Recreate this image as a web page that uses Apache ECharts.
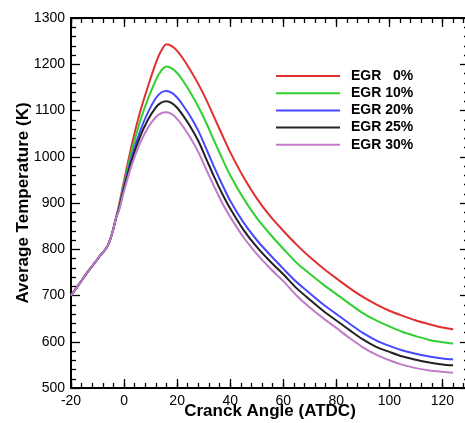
<!DOCTYPE html>
<html>
<head>
<meta charset="utf-8">
<title>Average Temperature vs Cranck Angle</title>
<script src="https://cdn.jsdelivr.net/npm/echarts@6.0.0/dist/echarts.min.js"></script>
<style>
  html, body { margin: 0; padding: 0; background: #fff; }
  #chart { width: 465px; height: 423px; }
</style>
</head>
<body>
<div id="chart"></div>
<script>
// crank angle (deg ATDC), shared by all curves
var angles = [-20, -17, -14, -11, -9, -7, -6, -5, -4, -3, -2, 0, 3, 6, 9, 12, 14, 16, 18, 20,
  22, 25, 28, 31, 34, 37, 40, 45, 50, 55, 60, 65, 70, 75, 80, 85, 90, 95, 100, 105, 110, 115, 120, 124];

var egrNames = ["EGR   0%", "EGR 10%", "EGR 20%", "EGR 25%", "EGR 30%"];

// average temperature (K)
var egr0 = [700, 724, 749, 771, 786, 800, 810, 825, 845, 868, 893, 948, 1028, 1096, 1152, 1203, 1229, 1243, 1239, 1229,
  1214, 1187, 1157, 1123, 1085, 1047, 1010, 956, 910, 872, 840, 810, 783, 759, 737, 716, 697, 681, 667, 656, 646, 638, 631, 627];
var egr10 = [700, 724, 749, 771, 786, 800, 810, 825, 845, 868, 890, 942, 1015, 1076, 1125, 1166, 1186, 1195, 1191, 1181,
  1166, 1139, 1108, 1073, 1034, 996, 960, 910, 868, 833, 801, 771, 747, 724, 703, 682, 662, 646, 633, 621, 612, 604, 599, 596];
var egr20 = [700, 724, 749, 771, 786, 800, 810, 825, 845, 868, 887, 936, 1002, 1055, 1096, 1127, 1139, 1142, 1138, 1128,
  1113, 1087, 1056, 1017, 977, 940, 905, 858, 820, 788, 758, 729, 705, 681, 660, 639, 619, 603, 591, 581, 574, 568, 564, 562];
var egr25 = [700, 724, 749, 771, 786, 800, 810, 825, 845, 868, 885, 932, 994, 1043, 1080, 1107, 1117, 1120, 1116, 1106,
  1091, 1065, 1034, 995, 956, 920, 888, 842, 805, 774, 746, 716, 691, 667, 646, 625, 605, 589, 578, 568, 561, 555, 551, 549];
var egr30 = [700, 724, 749, 771, 786, 800, 810, 825, 845, 868, 882, 926, 984, 1029, 1063, 1086, 1094, 1096, 1092, 1082,
  1067, 1041, 1010, 972, 935, 900, 870, 826, 790, 759, 731, 700, 674, 651, 630, 608, 588, 572, 560, 550, 543, 538, 535, 533];

var xTicks = { min: -20, max: 130, major: 20, minor: 4 };
var yTicks = { min: 500, max: 1300, major: 100 };

var colors = ["#e03030", "#30d030", "#4848ff", "#222222", "#c07cc8"];

function pairs(xs, ys) {
  var out = [];
  for (var i = 0; i < xs.length; i++) out.push([xs[i], ys[i]]);
  return out;
}

function init_chart(container) {
  var myChart = echarts.init(document.getElementById(container), null, { renderer: "canvas" });
  var font = "'Liberation Sans', Arial, sans-serif";
  var axisLine = { show: true, onZero: false, lineStyle: { color: "#000", width: 2 } };
  var plain = function (v) { return String(v); };

  // x axis: one axis for major ticks + labels, one for minor ticks, on bottom and top
  function xAxisDef(position, minor) {
    return {
      type: "value",
      position: position,
      min: xTicks.min,
      max: xTicks.max,
      interval: minor ? xTicks.minor : xTicks.major,
      axisLine: minor ? { show: false } : axisLine,
      axisTick: { show: true, inside: true, length: minor ? 5 : 9, lineStyle: { color: "#000", width: 1.3 } },
      axisLabel: {
        show: position === "bottom" && !minor,
        showMaxLabel: false,
        formatter: plain,
        color: "#000",
        fontSize: 14,
        fontFamily: font,
        margin: 6,
      },
      splitLine: { show: false },
      name: position === "bottom" && !minor ? "Cranck Angle (ATDC)" : "",
      nameLocation: "middle",
      nameGap: 15,
      nameMoveOverlap: false,
      nameTextStyle: { color: "#000", fontSize: 17, fontWeight: "bold", fontFamily: font },
    };
  }

  function yAxisDef(position) {
    return {
      type: "value",
      position: position,
      min: yTicks.min,
      max: yTicks.max,
      interval: yTicks.major,
      axisLine: axisLine,
      axisTick: { show: true, inside: true, length: 9, lineStyle: { color: "#000", width: 1.3 } },
      minorTick: { show: true, splitNumber: 5, length: 5, lineStyle: { color: "#000", width: 1.3 } },
      axisLabel: {
        show: position === "left",
        formatter: plain,
        color: "#000",
        fontSize: 14,
        fontFamily: font,
        margin: 6,
      },
      splitLine: { show: false },
      minorSplitLine: { show: false },
      name: position === "left" ? "Average Temperature (K)" : "",
      nameLocation: "middle",
      nameGap: 39,
      nameMoveOverlap: false,
      nameTextStyle: { color: "#000", fontSize: 17, fontWeight: "bold", fontFamily: font },
    };
  }

  var allTemps = [egr0, egr10, egr20, egr25, egr30];
  var series = [];
  for (var i = 0; i < allTemps.length; i++) {
    series.push({
      name: egrNames[i],
      type: "line",
      xAxisIndex: 0,
      yAxisIndex: 0,
      data: pairs(angles, allTemps[i]),
      smooth: 0.3,
      symbol: "none",
      lineStyle: { color: colors[i], width: 2 },
      itemStyle: { color: colors[i] },
      animation: false,
    });
  }

  var option = {
    backgroundColor: "#fff",
    animation: false,
    grid: {
      left: 71,
      top: 18,
      right: -4,
      bottom: 35,
      containLabel: false,
      outerBoundsMode: "none",
    },
    legend: {
      orient: "vertical",
      left: 276,
      top: 69,
      padding: 0,
      icon: "rect",
      itemWidth: 64,
      itemHeight: 2,
      itemGap: 3.2,
      data: egrNames,
      textStyle: { color: "#000", fontSize: 14, fontWeight: "bold", fontFamily: font, padding: [0, 0, 0, 6] },
    },
    xAxis: [xAxisDef("bottom", false), xAxisDef("bottom", true), xAxisDef("top", false), xAxisDef("top", true)],
    yAxis: [yAxisDef("left"), yAxisDef("right")],
    series: series,
  };

  window.addEventListener("resize", function () {
    myChart.resize();
  });
  myChart.setOption(option);
}

init_chart("chart");
</script>
</body>
</html>
